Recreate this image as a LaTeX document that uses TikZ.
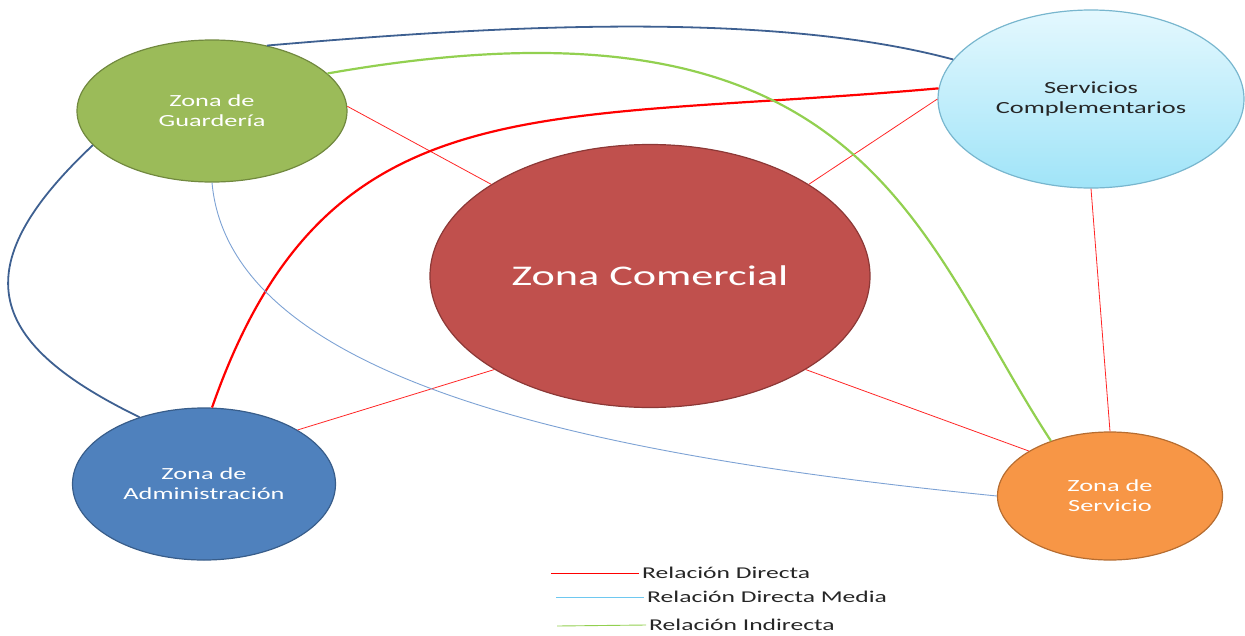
\documentclass[tikz,border=0pt]{standalone}
\usepackage{fontspec}
\setmainfont{Carlito}
\newfontfamily\anchafont[FakeStretch=1.55]{Carlito}
\usepackage{tikz}
\usetikzlibrary{shapes.geometric,calc}
\definecolor{verdezona}{RGB}{155,187,89}
\definecolor{verdeborde}{RGB}{113,137,63}
\definecolor{celestearriba}{RGB}{228,248,254}
\definecolor{celesteabajo}{RGB}{160,228,248}
\definecolor{celesteborde}{RGB}{120,182,206}
\definecolor{rojozona}{RGB}{192,80,77}
\definecolor{rojoborde}{RGB}{140,56,54}
\definecolor{azulzona}{RGB}{79,129,189}
\definecolor{azulborde}{RGB}{56,93,138}
\definecolor{naranjazona}{RGB}{247,150,70}
\definecolor{naranjaborde}{RGB}{182,109,49}
\definecolor{lineaoscura}{RGB}{62,96,145}
\definecolor{lineamedia}{RGB}{125,162,212}
\definecolor{lineaceleste}{RGB}{110,200,240}
\definecolor{lineaverde}{RGB}{146,208,80}

\begin{document}
\begin{tikzpicture}[x=1pt,y=-1pt,
  zona/.style={ellipse,draw,line width=1.2pt,align=center,inner sep=0pt,text=white,
    font=\anchafont\fontsize{17}{20}\selectfont},
  leyenda/.style={anchor=west,inner sep=3pt,text=black!85,font=\anchafont\fontsize{16.5}{19}\selectfont},
  directa/.style={red!85,line width=0.8pt},
  fuerte/.style={red,line width=2.2pt},
  oscura/.style={lineaoscura,line width=1.8pt},
  media/.style={lineamedia,line width=0.9pt},
  indirecta/.style={lineaverde,line width=2.2pt},
]
  \useasboundingbox (0,0) rectangle (1245,635);
  % zonas
  \node[zona,fill=verdezona,draw=verdeborde,minimum width=270pt,minimum height=142pt] (g) at (212,111) {Zona de\\Guardería};
  \node[zona,top color=celestearriba,bottom color=celesteabajo,draw=celesteborde,text=black!85,
    minimum width=306pt,minimum height=178pt] (s) at (1091,99) {Servicios\\Complementarios};
  \node[zona,fill=rojozona,draw=rojoborde,minimum width=440pt,minimum height=263pt,
    font=\anchafont\fontsize{28.5}{32}\selectfont] (c) at (650,276) {Zona Comercial};
  \node[zona,fill=azulzona,draw=azulborde,minimum width=263pt,minimum height=152pt] (a) at (204,484) {Zona de\\Administración};
  \node[zona,fill=naranjazona,draw=naranjaborde,minimum width=225pt,minimum height=128pt] (v) at (1110,496) {Zona de\\Servicio};
  % relaciones directas
  \draw[directa] (g.2) -- (c.150);
  \draw[directa] (c.30) -- (s.west);
  \draw[directa] (a.30) -- (c.211);
  \draw[directa] (c.329) -- (v.151);
  \draw[directa] (s.south) -- (v.north);
  \draw[fuerte] (a.84) .. controls ($(a.84)+(115,-329)$) and ($(s.176)+(-400,36)$) .. (s.176);
  % curvas azules
  \draw[oscura] (g.50) .. controls ($(g.50)+(199,-17)$) and ($(s.164)+(-193,-52)$) .. (s.164);
  \draw[oscura] (g.196) .. controls ($(g.196)+(-133,125)$) and ($(a.134)+(-150,-73)$) .. (a.134);
  \draw[media] (g.south) .. controls ($(g.south)+(18,200)$) and ($(v.west)+(-400,-40)$) .. (v.west);
  % relacion indirecta
  \draw[indirecta] (g.18) .. controls ($(g.18)+(539,-95)$) and ($(v.137)+(-136,-208)$) .. (v.137);
  % leyenda
  \node[leyenda] (l1) at (639,573) {Relación Directa};
  \node[leyenda] (l2) at (644,597) {Relación Directa Media};
  \node[leyenda] (l3) at (646,625) {Relación Indirecta};
  \coordinate (l1a) at (551,573);
  \coordinate (l2a) at (556,597);
  \coordinate (l3a) at (557,626);
  \draw[red,line width=0.9pt] (l1a) -- (l1.west);
  \draw[lineaceleste,line width=0.9pt] (l2a) -- (l2.west);
  \draw[lineaverde,line width=0.9pt] (l3a) -- (l3.west);
\end{tikzpicture}
\end{document}
